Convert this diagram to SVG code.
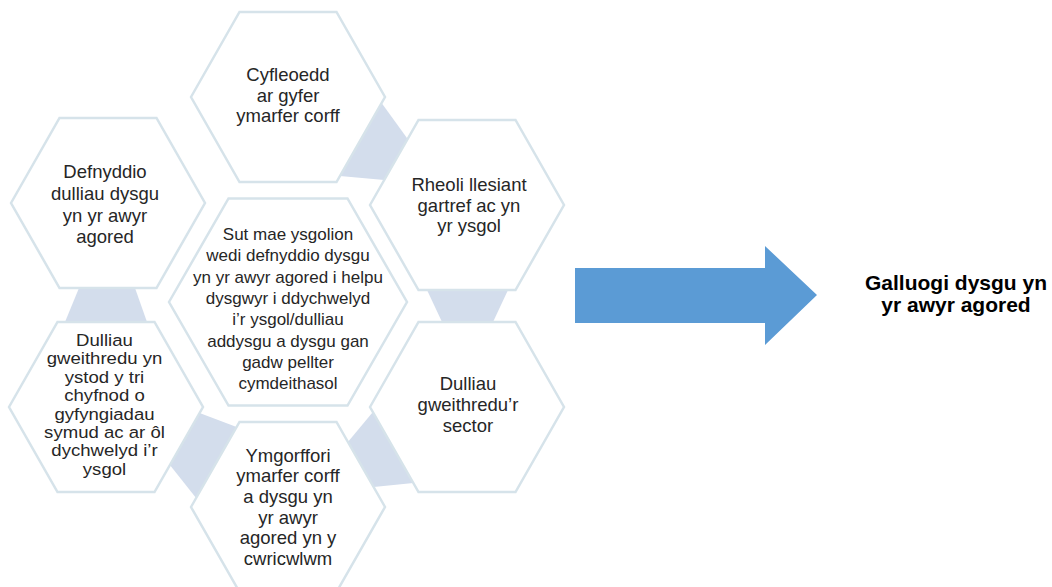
<svg xmlns="http://www.w3.org/2000/svg" width="1052" height="587" viewBox="0 0 1052 587">
<style>
.hex{fill:#ffffff;stroke:#d6e3ea;stroke-width:2.5;stroke-linejoin:miter}
.con{fill:#d3ddec;stroke:none}
.t{font-family:"Liberation Sans",Arial,sans-serif;font-size:18.5px;fill:#262626;text-anchor:middle}
.ts{font-family:"Liberation Sans",Arial,sans-serif;font-size:16.3px;fill:#262626;text-anchor:middle}
.tc{font-family:"Liberation Sans",Arial,sans-serif;font-size:17px;fill:#262626;text-anchor:middle}
.title{font-family:"Liberation Sans",Arial,sans-serif;font-size:21px;font-weight:bold;fill:#000000;text-anchor:middle}
</style>
<rect width="1052" height="587" fill="#ffffff"/>
<g id="connectors">
<polygon class="con" points="381.6,103 407.7,139 384.3,180 339.9,176"/>
<polygon class="con" points="79,288 135,288 147,322 65,322"/>
<polygon class="con" points="427,290 508,290 493,322 442,322"/>
<polygon class="con" points="199.6,413 236.6,427 196.1,498 169.9,465"/>
<polygon class="con" points="372.9,412 413.4,483 373.6,487 347.9,442"/>
</g>
<g id="node-cyfleoedd">
<polygon class="hex" points="191,97 239.5,12 336.5,12 385,97 336.5,182 239.5,182"/>
<text class="t"><tspan x="288" y="81">Cyfleoedd</tspan><tspan x="288" y="101.5">ar gyfer</tspan><tspan x="288" y="122">ymarfer corff</tspan></text>
</g>
<g id="node-rheoli">
<polygon class="hex" points="370,205 418.5,120 515.5,120 564,205 515.5,290 418.5,290"/>
<text class="t"><tspan x="469" y="190.7">Rheoli llesiant</tspan><tspan x="469" y="211.5">gartref ac yn</tspan><tspan x="469" y="232">yr ysgol</tspan></text>
</g>
<g id="node-defnyddio">
<polygon class="hex" points="11,203 59.5,118 156.5,118 205,203 156.5,288 59.5,288"/>
<text class="t"><tspan x="105" y="178">Defnyddio</tspan><tspan x="105" y="200">dulliau dysgu</tspan><tspan x="105" y="221.7">yn yr awyr</tspan><tspan x="105" y="242.7">agored</tspan></text>
</g>
<g id="node-sut-mae">
<polygon class="hex" points="169,302 228.5,198.5 347.5,198.5 407,302 347.5,405.5 228.5,405.5"/>
<text class="tc"><tspan x="288" y="240">Sut mae ysgolion</tspan><tspan x="288" y="261.3">wedi defnyddio dysgu</tspan><tspan x="288" y="282.6">yn yr awyr agored i helpu</tspan><tspan x="288" y="303.9">dysgwyr i ddychwelyd</tspan><tspan x="288" y="325.2">i’r ysgol/dulliau</tspan><tspan x="288" y="346.5">addysgu a dysgu gan</tspan><tspan x="288" y="367.8">gadw pellter</tspan><tspan x="288" y="389.1">cymdeithasol</tspan></text>
</g>
<g id="node-dulliau-yn">
<polygon class="hex" points="9,407 57.5,322 154.5,322 203,407 154.5,492 57.5,492"/>
<g transform="translate(104.5 0) scale(1.14 1)">
<text class="ts"><tspan x="0" y="346">Dulliau</tspan><tspan x="0" y="364.4">gweithredu yn</tspan><tspan x="0" y="382.8">ystod y tri</tspan><tspan x="0" y="401.2">chyfnod o</tspan><tspan x="0" y="419.6">gyfyngiadau</tspan><tspan x="0" y="438">symud ac ar ôl</tspan><tspan x="0" y="456.4">dychwelyd i’r</tspan><tspan x="0" y="474.8">ysgol</tspan></text>
</g>
</g>
<g id="node-dulliau-sector">
<polygon class="hex" points="370,407 418.5,322 515.5,322 564,407 515.5,492 418.5,492"/>
<text class="t"><tspan x="468" y="390">Dulliau</tspan><tspan x="468" y="410.7">gweithredu’r</tspan><tspan x="468" y="431.5">sector</tspan></text>
</g>
<g id="node-ymgorffori">
<polygon class="hex" points="191,507 239.5,422 336.5,422 385,507 336.5,592 239.5,592"/>
<text class="t"><tspan x="288" y="461.7">Ymgorffori</tspan><tspan x="288" y="482.3">ymarfer corff</tspan><tspan x="288" y="502.9">a dysgu yn</tspan><tspan x="288" y="523.5">yr awyr</tspan><tspan x="288" y="544.1">agored yn y</tspan><tspan x="288" y="564.7">cwricwlwm</tspan></text>
</g>
<g id="arrow">
<polygon points="575,268 765,268 765,246 817,295 765,345 765,323 575,323" fill="#5b9bd5"/>
</g>
<g id="node-result">
<text class="title"><tspan x="956" y="290">Galluogi dysgu yn</tspan><tspan x="956" y="311.7">yr awyr agored</tspan></text>
</g>
</svg>
